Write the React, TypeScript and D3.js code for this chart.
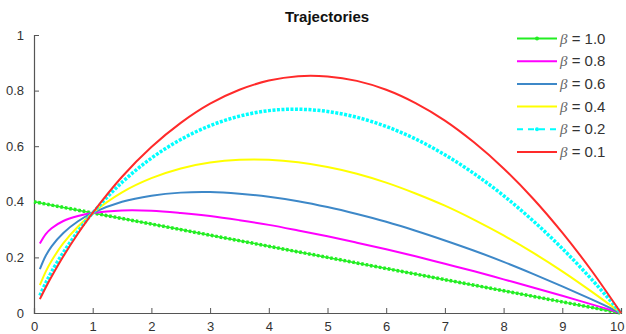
import React, { useRef, useEffect } from "react";
import * as d3 from "d3";

// sample positions along x
const xs = [0.1, 0.2, 0.3, 0.5, 0.75, 1, 1.5, 2, 2.5, 3, 3.5, 4, 4.5, 5, 5.5, 6, 6.5, 7, 7.5, 8, 8.5, 9, 9.5, 10];

const xsLinear = [0, 1, 2, 3, 4, 5, 6, 7, 8, 9, 10];
const beta10 = [0.4, 0.36, 0.32, 0.28, 0.24, 0.2, 0.16, 0.12, 0.08, 0.04, 0];

const beta08 = [0.25, 0.284, 0.305, 0.331, 0.349, 0.36, 0.369, 0.368, 0.36, 0.349, 0.334, 0.317, 0.297, 0.276, 0.253, 0.229, 0.204, 0.177, 0.15, 0.121, 0.092, 0.062, 0.031, 0];
const beta06 = [0.158, 0.206, 0.24, 0.288, 0.33, 0.36, 0.4, 0.422, 0.433, 0.435, 0.429, 0.418, 0.402, 0.381, 0.356, 0.328, 0.296, 0.261, 0.224, 0.184, 0.141, 0.096, 0.049, 0];
const beta04 = [0.1, 0.149, 0.188, 0.251, 0.311, 0.36, 0.434, 0.485, 0.52, 0.541, 0.551, 0.551, 0.542, 0.525, 0.501, 0.469, 0.43, 0.386, 0.335, 0.279, 0.217, 0.15, 0.077, 0];
const beta02 = [0.063, 0.108, 0.148, 0.218, 0.294, 0.36, 0.47, 0.557, 0.624, 0.674, 0.708, 0.728, 0.733, 0.725, 0.704, 0.671, 0.626, 0.569, 0.501, 0.422, 0.332, 0.232, 0.121, 0];
const beta01 = [0.05, 0.092, 0.131, 0.204, 0.286, 0.36, 0.49, 0.597, 0.684, 0.753, 0.803, 0.836, 0.852, 0.851, 0.835, 0.803, 0.755, 0.692, 0.613, 0.52, 0.412, 0.289, 0.152, 0];

const legendLabels = ["1.0", "0.8", "0.6", "0.4", "0.2", "0.1"];
const xTicks = [0, 1, 2, 3, 4, 5, 6, 7, 8, 9, 10];
const yTicks = [0, 0.2, 0.4, 0.6, 0.8, 1];

const series = [
  { label: "1.0", x: xsLinear, y: beta10, color: "#22ee22", kind: "dots" },
  { label: "0.8", x: xs, y: beta08, color: "#ff00ff", kind: "solid" },
  { label: "0.6", x: xs, y: beta06, color: "#3d88c8", kind: "solid" },
  { label: "0.4", x: xs, y: beta04, color: "#ffff00", kind: "solid" },
  { label: "0.2", x: xs, y: beta02, color: "#00ffff", kind: "dash" },
  { label: "0.1", x: xs, y: beta01, color: "#ff2a2a", kind: "solid" },
];

const W = 626;
const H = 334;
const margin = { top: 35, right: 5, bottom: 21, left: 34 };

const App = () => {
  const svgRef = useRef(null);

  useEffect(() => {
    const svg = d3.select(svgRef.current);
    svg.selectAll("*").remove();

    const xScale = d3.scaleLinear().domain([0, 10]).range([margin.left, W - margin.right]);
    const yScale = d3.scaleLinear().domain([0, 1]).range([H - margin.bottom, margin.top]);

    const font = "Arial, 'Liberation Sans', sans-serif";

    // axes (MATLAB style: ticks inward, left + bottom only)
    const xAxis = d3.axisBottom(xScale).tickValues(xTicks).tickSize(-5).tickPadding(9).tickFormat(d3.format("d"));
    const yAxis = d3.axisLeft(yScale).tickValues(yTicks).tickSize(-5).tickPadding(10).tickFormat((d) => String(d));

    const gx = svg.append("g").attr("transform", `translate(0, ${H - margin.bottom})`).call(xAxis);
    const gy = svg.append("g").attr("transform", `translate(${margin.left}, 0)`).call(yAxis);
    [gx, gy].forEach((g) => {
      g.select(".domain").attr("stroke", "#555").attr("stroke-width", 1.2);
      g.selectAll(".tick line").attr("stroke", "#555");
      g.selectAll(".tick text").attr("fill", "#333").attr("font-size", 13).attr("font-family", font);
    });
    // keep the last x label inside the window
    gx.selectAll(".tick text").filter((d) => d === 10).attr("text-anchor", "end").attr("dx", 3);

    const line = d3.line().curve(d3.curveCatmullRom);

    series.forEach((s) => {
      const pts = s.x.map((xv, i) => [xScale(xv), yScale(s.y[i])]);
      if (s.kind === "dots") {
        svg.append("path").attr("d", line(pts)).attr("fill", "none").attr("stroke", s.color).attr("stroke-width", 1.5);
        svg.append("path").attr("d", line(pts)).attr("fill", "none").attr("stroke", s.color)
          .attr("stroke-width", 3.5).attr("stroke-dasharray", "2.5,2");
      } else if (s.kind === "dash") {
        svg.append("path").attr("d", line(pts)).attr("fill", "none").attr("stroke", s.color)
          .attr("stroke-width", 3.5).attr("stroke-dasharray", "3,1.5");
      } else {
        svg.append("path").attr("d", line(pts)).attr("fill", "none").attr("stroke", s.color).attr("stroke-width", 2);
      }
    });

    // title
    svg.append("text").attr("x", 327).attr("y", 22).attr("text-anchor", "middle")
      .attr("font-family", font).attr("font-weight", "bold").attr("font-size", 15).attr("fill", "#111")
      .text("Trajectories");

    // legend
    const lg = svg.append("g");
    legendLabels.forEach((lab, i) => {
      const s = series[i];
      const y = 38.5 + i * 22.7;
      if (s.kind === "dots") {
        lg.append("line").attr("x1", 517).attr("x2", 557).attr("y1", y).attr("y2", y).attr("stroke", s.color).attr("stroke-width", 2);
        lg.append("circle").attr("cx", 537).attr("cy", y).attr("r", 2).attr("fill", s.color);
      } else if (s.kind === "dash") {
        lg.append("line").attr("x1", 517).attr("x2", 557).attr("y1", y).attr("y2", y).attr("stroke", s.color)
          .attr("stroke-width", 2).attr("stroke-dasharray", "6,5");
        lg.append("circle").attr("cx", 537).attr("cy", y).attr("r", 2).attr("fill", s.color);
      } else {
        lg.append("line").attr("x1", 517).attr("x2", 557).attr("y1", y).attr("y2", y).attr("stroke", s.color).attr("stroke-width", 2);
      }
      const t = lg.append("text").attr("x", 560).attr("y", y + 5).attr("font-size", 15).attr("fill", "#333").attr("font-family", font);
      t.append("tspan").attr("font-family", "'Times New Roman', 'Liberation Serif', serif").attr("font-style", "italic").attr("fill", "#666").text("β");
      t.append("tspan").text(` = ${lab}`);
    });
  }, []);

  return <svg ref={svgRef} width={W} height={H} style={{ position: "absolute", left: 0, top: 0, background: "#fff" }} />;
};

export default App;
